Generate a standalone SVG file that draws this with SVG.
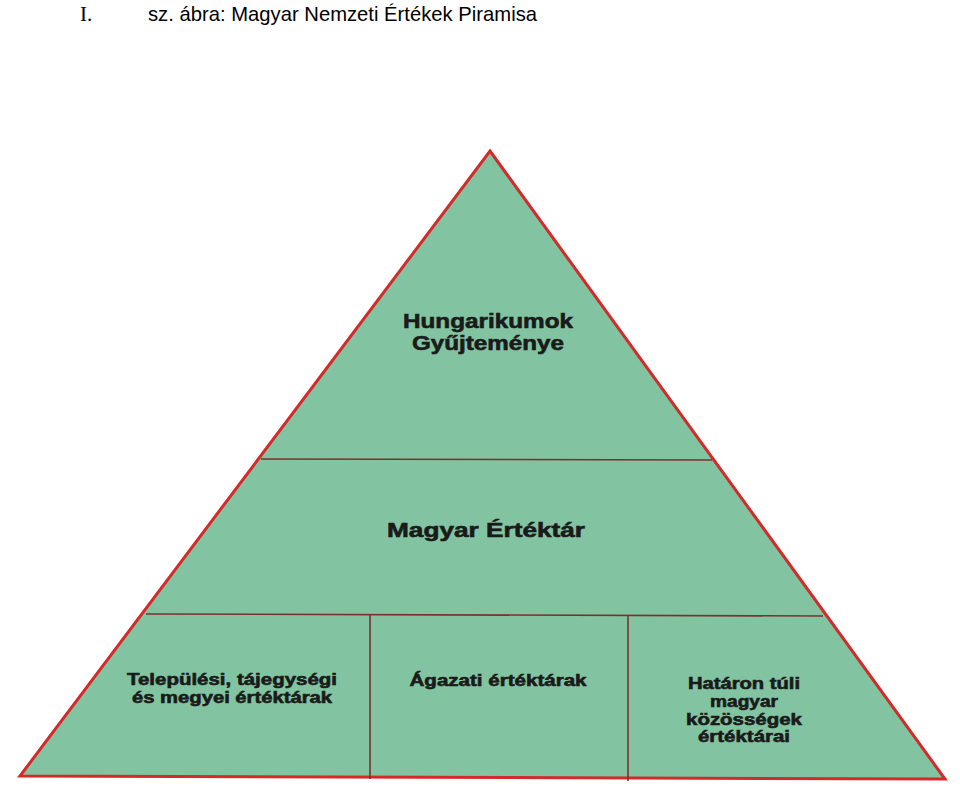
<svg xmlns="http://www.w3.org/2000/svg" width="960" height="792" viewBox="0 0 960 792">
<style>
.t{font-family:"Liberation Sans",Arial,sans-serif;font-weight:bold;fill:#1a1a1a;stroke:#1a1a1a;stroke-width:0.6;text-anchor:middle}
.big{font-size:20px}
.sm{font-size:16px}
.div{stroke:#7a3030;stroke-width:1.6;fill:none}
</style>
<rect width="960" height="792" fill="#ffffff"/>
<g id="title">
<text x="80" y="21" font-family="Liberation Serif,Times New Roman,serif" font-size="21" fill="#000">I.</text>
<text x="148" y="21" font-family="Liberation Sans,Arial,sans-serif" font-size="21" fill="#000" textLength="389" lengthAdjust="spacingAndGlyphs">sz. ábra: Magyar Nemzeti Értékek Piramisa</text>
</g>
<g id="pyramid">
<polygon points="490,151 945,779 20,776" fill="#82c4a1" stroke="#d42a2a" stroke-width="3" stroke-linejoin="miter"/>
</g>
<g id="connectors">
<line class="div" x1="261" y1="459" x2="712" y2="460"/>
<line class="div" x1="146" y1="614" x2="823" y2="616"/>
<line class="div" x1="370" y1="615" x2="370" y2="779"/>
<line class="div" x1="628" y1="616" x2="628" y2="781"/>
</g>
<g id="hungarikumok">
<text class="t big" x="488" y="328" textLength="170" lengthAdjust="spacingAndGlyphs">Hungarikumok</text>
<text class="t big" x="488" y="350" textLength="152" lengthAdjust="spacingAndGlyphs">Gyűjteménye</text>
</g>
<g id="ertektar">
<text class="t big" x="486" y="537" textLength="198" lengthAdjust="spacingAndGlyphs">Magyar Értéktár</text>
</g>
<g id="telepulesi">
<text class="t sm" x="232" y="685" textLength="210" lengthAdjust="spacingAndGlyphs">Települési, tájegységi</text>
<text class="t sm" x="232" y="703" textLength="200" lengthAdjust="spacingAndGlyphs">és megyei értéktárak</text>
</g>
<g id="agazati">
<text class="t sm" x="498" y="686" textLength="177" lengthAdjust="spacingAndGlyphs">Ágazati értéktárak</text>
</g>
<g id="hataron">
<text class="t sm" x="744" y="689" textLength="112" lengthAdjust="spacingAndGlyphs">Határon túli</text>
<text class="t sm" x="744" y="707" textLength="68" lengthAdjust="spacingAndGlyphs">magyar</text>
<text class="t sm" x="744" y="725" textLength="116" lengthAdjust="spacingAndGlyphs">közösségek</text>
<text class="t sm" x="744" y="742" textLength="92" lengthAdjust="spacingAndGlyphs">értéktárai</text>
</g>
</svg>
